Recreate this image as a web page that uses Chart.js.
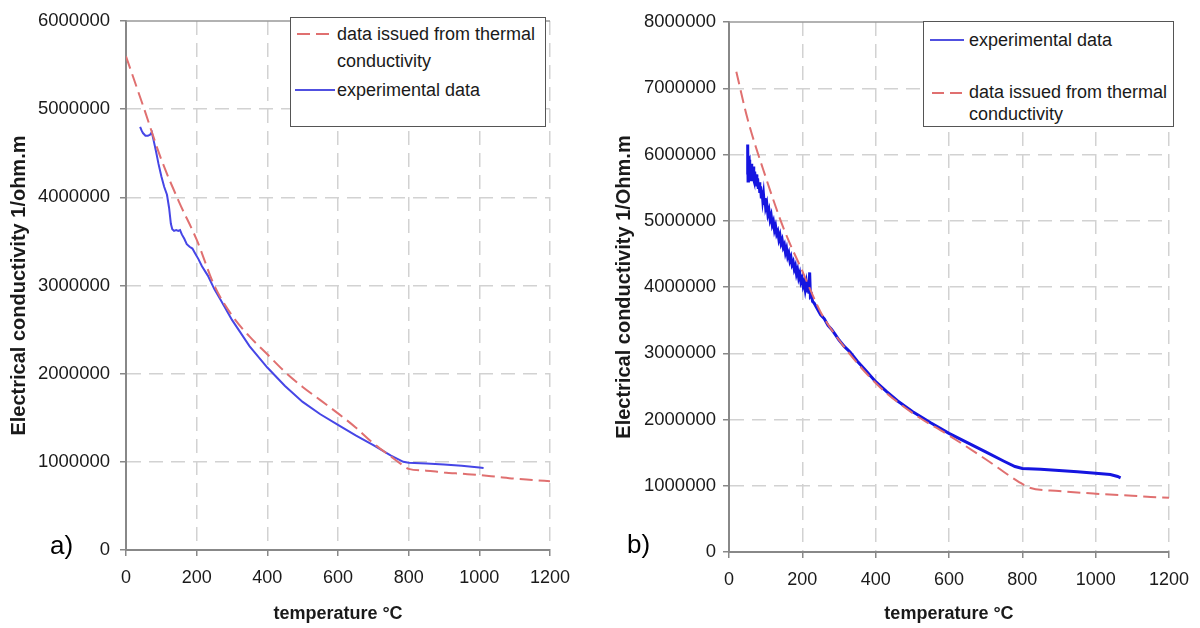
<!DOCTYPE html>
<html><head><meta charset="utf-8">
<script src="https://cdn.jsdelivr.net/npm/chart.js@4.4.1/dist/chart.umd.min.js"></script>
<style>
body{margin:0;background:#fff;width:1200px;height:628px;overflow:hidden;position:relative;font-family:'Liberation Sans',Arial,sans-serif;}
canvas{position:absolute;top:0;}
#cA{left:0} #cB{left:600px}
.legend{position:absolute;border:1.5px solid #555;background:#fff;box-sizing:border-box;}
.item{position:absolute;font-size:18px;color:#1a1a1a;white-space:nowrap}
.sample{position:absolute}
.panel{position:absolute;font-size:26px;line-height:26px;color:#000}
</style></head>
<body>
<canvas id="cA" width="600" height="628"></canvas>
<canvas id="cB" width="600" height="628"></canvas>

<div class="legend" style="left:290px;top:17px;width:256px;height:110px">
  <svg class="sample" style="left:6px;top:14px" width="38" height="4"><line x1="0" y1="2" x2="38" y2="2" stroke="#e07070" stroke-width="2" stroke-dasharray="13 6"/></svg>
  <div class="item" style="left:46px;top:3px;line-height:27px">data issued from thermal<br>conductivity</div>
  <svg class="sample" style="left:4px;top:70px" width="40" height="4"><line x1="0" y1="2" x2="40" y2="2" stroke="#5050e0" stroke-width="2"/></svg>
  <div class="item" style="left:46px;top:59px;line-height:26px">experimental data</div>
</div>

<div class="legend" style="left:923px;top:21px;width:251px;height:106px">
  <svg class="sample" style="left:6px;top:16px" width="34" height="4"><line x1="0" y1="2" x2="34" y2="2" stroke="#5050e0" stroke-width="2"/></svg>
  <div class="item" style="left:45px;top:5px;line-height:26px">experimental data</div>
  <svg class="sample" style="left:8px;top:69px" width="34" height="4"><line x1="0" y1="2" x2="34" y2="2" stroke="#e07070" stroke-width="2" stroke-dasharray="12 6"/></svg>
  <div class="item" style="left:45px;top:59px;line-height:22px">data issued from thermal<br>conductivity</div>
</div>

<div class="panel" style="left:50px;top:532px">a)</div>
<div class="panel" style="left:627px;top:531px">b)</div>

<script>
// ---------- data (a) ----------
const leftRedT = [0,50,100,150,200,250,300,350,400,450,500,550,600,650,700,750,780,800,850,900,950,1000,1050,1100,1150,1200];
const leftRedV = [5600000,5020000,4430000,3950000,3520000,3000000,2660000,2420000,2220000,2020000,1850000,1700000,1550000,1390000,1210000,1060000,970000,920000,900000,880000,865000,850000,830000,810000,795000,780000];
const leftExpT = [40,44,48,55,62,68,73,78,85,92,100,108,116,122,127,131,136,142,148,153,158,165,172,180,188,195,205,215,232,250,266,300,350,400,450,500,550,600,650,700,750,785,800,850,900,950,1000,1012];
const leftExpV = [4800000,4760000,4730000,4700000,4700000,4710000,4740000,4650000,4520000,4380000,4240000,4120000,4030000,3880000,3700000,3640000,3620000,3630000,3620000,3630000,3580000,3530000,3470000,3440000,3420000,3370000,3300000,3220000,3110000,2960000,2850000,2610000,2310000,2070000,1860000,1680000,1540000,1420000,1300000,1190000,1070000,1000000,990000,980000,970000,955000,935000,930000];

// ---------- data (b) ----------
const rightRedT = [20,50,100,150,200,250,300,400,500,600,700,790,820,900,1000,1100,1150,1200];
const rightRedV = [7250000,6550000,5660000,4870000,4240000,3620000,3200000,2550000,2100000,1760000,1400000,1060000,970000,920000,880000,850000,830000,820000];
const rightExpT = [50,51,52,53,55,56,57,58,59,60,61,62,63,64,65,66,67,68,70,72,74,76,78,80,82,84,86,88,90,92,94,96,98,100,103,106,109,112,115,118,121,124,127,130,133,136,139,142,145,148,151,154,157,160,163,166,169,172,175,178,181,184,187,190,193,196,199,202,205,208,211,214,216,218,220,222,225,228,232,240,250,260,270,280,290,300,315,330,350,370,400,430,460,500,550,600,650,700,750,780,800,850,900,950,1000,1040,1060,1068];
const rightExpV = [5700000,6150000,5600000,5900000,5920000,5700000,5880000,5620000,5840000,5660000,5860000,5700000,5800000,5600000,5780000,5650000,5820000,5620000,5740000,5580000,5700000,5520000,5640000,5480000,5580000,5420000,5520000,5360000,5460000,5320000,5400000,5260000,5340000,5200000,5260000,5100000,5160000,5020000,5080000,4940000,4990000,4860000,4920000,4800000,4840000,4720000,4780000,4660000,4710000,4600000,4640000,4520000,4580000,4460000,4510000,4400000,4450000,4340000,4380000,4270000,4320000,4200000,4260000,4140000,4200000,4080000,4130000,4020000,4080000,3960000,4060000,3920000,4100000,3900000,4220000,3860000,3880000,3780000,3760000,3680000,3580000,3520000,3420000,3360000,3280000,3200000,3100000,3020000,2880000,2760000,2570000,2420000,2280000,2120000,1950000,1790000,1650000,1510000,1370000,1290000,1260000,1250000,1230000,1210000,1190000,1170000,1140000,1120000];

const xTicks = [0,200,400,600,800,1000,1200];
const leftYTicks = [0,1000000,2000000,3000000,4000000,5000000,6000000];
const rightYTicks = [0,1000000,2000000,3000000,4000000,5000000,6000000,7000000,8000000];

const pts = (t, v) => t.map((x, i) => ({x, y: v[i]}));

Chart.defaults.font.family = "'Liberation Sans', Arial, sans-serif";
Chart.defaults.color = '#1a1a1a';

const frame = {
  id: 'frame',
  beforeDatasetsDraw(c) {
    const a = c.chartArea, ctx = c.ctx;
    ctx.save();
    ctx.strokeStyle = '#999'; ctx.lineWidth = 1.5;
    ctx.beginPath(); ctx.moveTo(a.left, a.top); ctx.lineTo(a.right, a.top); ctx.stroke();
    ctx.restore();
  }
};

function makeChart(id, cfg) {
  return new Chart(document.getElementById(id), {
    type: 'line',
    data: { datasets: [
      { data: pts(cfg.redT, cfg.redV), borderColor: '#e07070', borderWidth: 2, borderDash: [13, 6], pointRadius: 0, cubicInterpolationMode: 'monotone' },
      { data: pts(cfg.expT, cfg.expV), borderColor: cfg.expColor, borderWidth: cfg.expWidth, pointRadius: 0, tension: 0 }
    ]},
    options: {
      responsive: false, animation: false,
      layout: { padding: { left: 0, right: cfg.padRight, top: cfg.padTop, bottom: 0 } },
      plugins: { legend: { display: false }, tooltip: { enabled: false } },
      scales: {
        x: {
          type: 'linear', min: 0, max: 1200,
          afterBuildTicks: s => { s.ticks = xTicks.map(v => ({value: v})); },
          afterFit: s => { s.height = cfg.xHeight; },
          ticks: { font: { size: 18 }, color: '#1a1a1a', padding: 11, maxRotation: 0, callback: v => String(v) },
          grid: { color: c => (c.tick && c.tick.value === 0) ? 'rgba(0,0,0,0)' : '#d2d2d2', lineWidth: 1.5, tickColor: '#888', tickLength: 6, tickWidth: 1.5 },
          border: { display: true, color: '#888', width: 2, dash: [14, 8] },
          title: { display: true, text: 'temperature °C', font: { size: 18, weight: 'bold' }, color: '#1a1a1a', padding: { top: 0, bottom: 3 } }
        },
        y: {
          type: 'linear', min: 0, max: cfg.yMax,
          afterBuildTicks: s => { s.ticks = cfg.yTicks.map(v => ({value: v})); },
          afterFit: s => { s.width = cfg.yWidth; },
          ticks: { font: { size: 18.5 }, color: '#1a1a1a', padding: cfg.yPad, callback: v => String(v) },
          grid: { color: c => (c.tick && (c.tick.value === 0 || c.tick.value === cfg.yMax)) ? 'rgba(0,0,0,0)' : '#d2d2d2', lineWidth: 1.5, tickColor: '#888', tickLength: 6, tickWidth: 1.5 },
          border: { display: true, color: '#888', width: 2, dash: [14, 8] },
          title: { display: true, text: cfg.yTitle, font: { size: 20, weight: 'bold' }, color: '#1a1a1a', padding: { top: cfg.yTitlePad, bottom: 0 } }
        }
      }
    },
    plugins: [frame]
  });
}

makeChart('cA', {
  redT: leftRedT, redV: leftRedV, expT: leftExpT, expV: leftExpV,
  expColor: '#4646e6', expWidth: 2,
  padRight: 50, padTop: 19, xHeight: 78, yWidth: 126, yPad: 10, yTitlePad: 7.5,
  yMax: 6000000, yTicks: leftYTicks, yTitle: 'Electrical conductivity 1/ohm.m'
});
makeChart('cB', {
  redT: rightRedT, redV: rightRedV, expT: rightExpT, expV: rightExpV,
  expColor: '#1515e0', expWidth: 3,
  padRight: 28, padTop: 22, xHeight: 76, yWidth: 129, yPad: 7, yTitlePad: 12,
  yMax: 8000000, yTicks: rightYTicks, yTitle: 'Electrical conductivity 1/Ohm.m'
});
</script>
</body></html>
